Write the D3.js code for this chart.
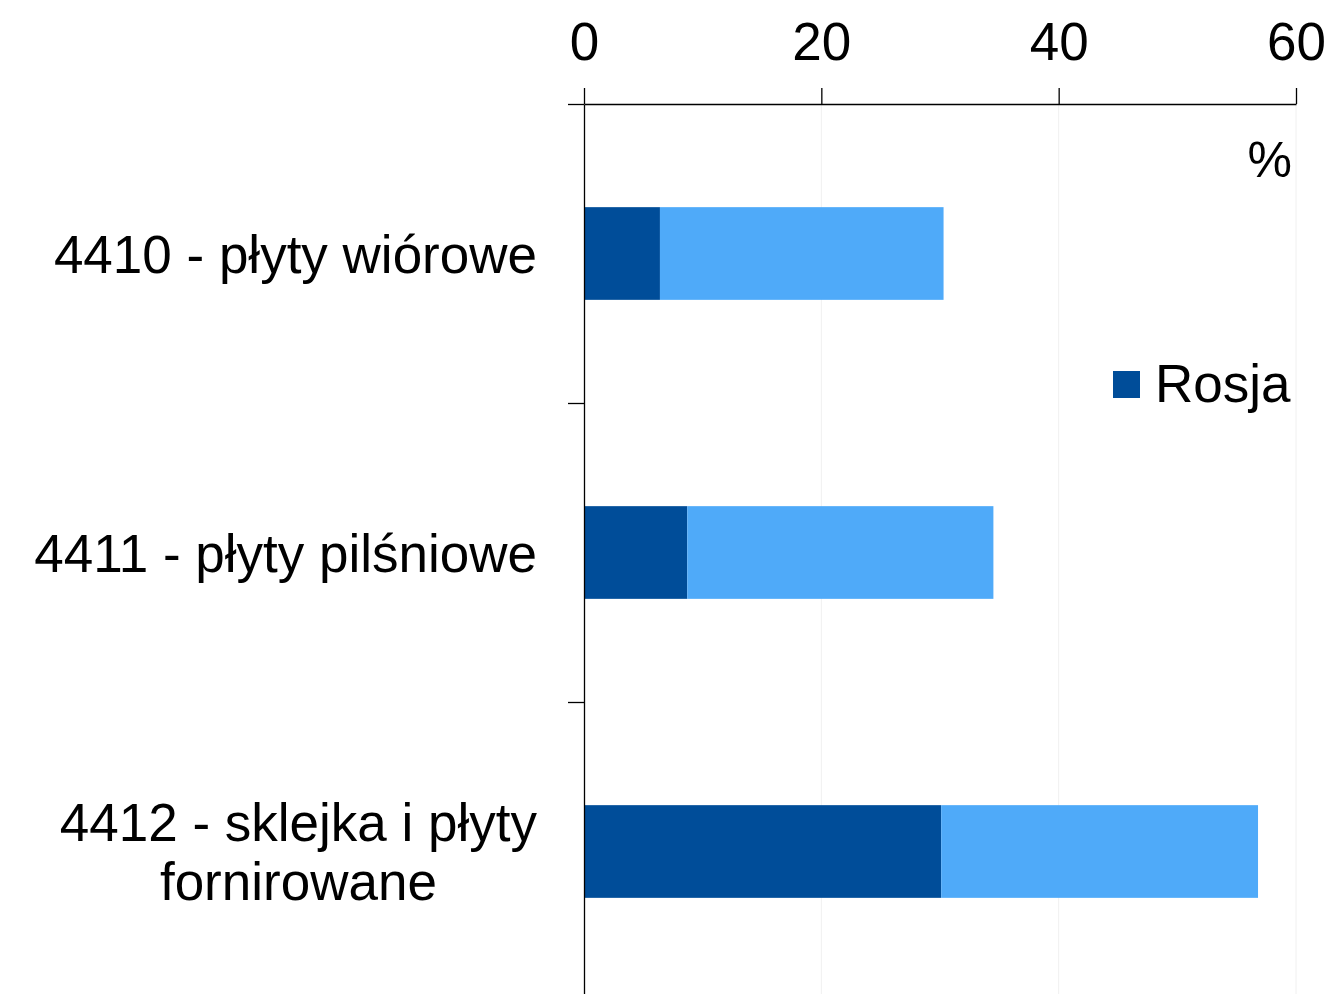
<!DOCTYPE html>
<html>
<head>
<meta charset="utf-8">
<script src="https://cdn.jsdelivr.net/npm/d3@7"></script>
<style>
  body { margin: 0; background: #fff; }
  text { font-family: "Liberation Sans", Arial, sans-serif; fill: #000; }
</style>
</head>
<body>
<script>
// data
var categories = [
    ["4410 - płyty wiórowe"],
    ["4411 - płyty pilśniowe"],
    ["4412 - sklejka i płyty", "fornirowane"]
];
var rosja = [6.4, 8.7, 30.1];
var pozostale = [23.9, 25.8, 26.7];
var xTicks = [0, 20, 40, 60];

// set the dimensions and margins of the graph
var margin = { top: 104, right: 38, bottom: 0, left: 584 },
    width = 1334 - margin.left - margin.right,
    height = 897;

var svg = d3.select("body").append("svg")
    .attr("width", 1334)
    .attr("height", 994);

var g = svg.append("g")
    .attr("transform", "translate(" + margin.left + "," + margin.top + ")");

var x = d3.scaleLinear().domain([0, 60]).range([0, width]);
var y = d3.scaleBand().domain(d3.range(categories.length)).range([0, height]).paddingInner(0.69).paddingOuter(0.345);
var yEdge = d3.scaleLinear().domain([0, categories.length]).range([0, height]);

// faint gridlines
g.selectAll(".grid")
    .data(xTicks.slice(1))
    .enter().append("line")
    .attr("x1", (d) => { return x(d); })
    .attr("x2", (d) => { return x(d); })
    .attr("y1", 0)
    .attr("y2", height)
    .attr("stroke", "#f0f0f0")
    .attr("stroke-width", 1);

// stacked bars
var rows = categories.map((c, i) => {
    return { i: i, a: rosja[i], b: pozostale[i] };
});

g.selectAll(".bar-a")
    .data(rows)
    .enter().append("rect")
    .attr("x", x(0))
    .attr("y", (d) => { return y(d.i); })
    .attr("width", (d) => { return x(d.a) - x(0); })
    .attr("height", y.bandwidth())
    .attr("fill", "#004d99");

g.selectAll(".bar-b")
    .data(rows)
    .enter().append("rect")
    .attr("x", (d) => { return x(d.a); })
    .attr("y", (d) => { return y(d.i); })
    .attr("width", (d) => { return x(d.a + d.b) - x(d.a); })
    .attr("height", y.bandwidth())
    .attr("fill", "#4faaf9");

// x axis on top
var xAxis = g.append("g")
    .call(d3.axisTop(x).tickValues(xTicks).tickSize(16).tickSizeOuter(0).tickPadding(28));
xAxis.selectAll("text").style("font-size", "53px").attr("font-family", "Liberation Sans, Arial, sans-serif");
xAxis.selectAll("line, path").attr("stroke", "#000").attr("stroke-width", 1.3);

// y axis with ticks between categories
var yAxis = g.append("g")
    .call(d3.axisLeft(yEdge).tickValues(d3.range(categories.length + 1)).tickFormat("").tickSize(16).tickSizeOuter(0));
yAxis.selectAll("line, path").attr("stroke", "#000").attr("stroke-width", 1.3);

// category labels
var labelRight = 537 - margin.left;
categories.forEach((lines, i) => {
    var cy = y(i) + y.bandwidth() / 2;
    var t = g.append("text")
        .style("font-size", "53px");
    var lh = 59;
    var startY = cy - (lines.length - 1) * lh / 2 + 19;
    lines.forEach((s, j) => {
        t.append("tspan").attr("y", startY + j * lh).text(s);
    });
    // right-align block, center lines within it
    var widths = [];
    t.selectAll("tspan").each(function () { widths.push(this.getComputedTextLength()); });
    var maxW = d3.max(widths);
    t.attr("text-anchor", "middle");
    t.selectAll("tspan").attr("x", labelRight - maxW / 2);
});

// unit label
g.append("text")
    .attr("x", 1292 - margin.left)
    .attr("y", 177 - margin.top)
    .attr("text-anchor", "end")
    .style("font-size", "50px")
    .text("%");

// legend
var legend = svg.append("g").attr("transform", "translate(1113,371)");
legend.append("rect")
    .attr("width", 27)
    .attr("height", 27)
    .attr("fill", "#004d99");
legend.append("text")
    .attr("x", 42)
    .attr("y", 31)
    .style("font-size", "53px")
    .text("Rosja");
</script>
</body>
</html>
